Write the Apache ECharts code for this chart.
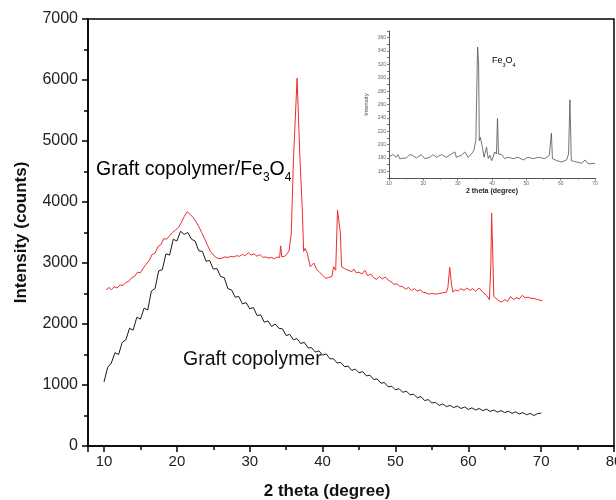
<!DOCTYPE html>
<html>
<head>
<meta charset="utf-8">
<script src="https://cdn.jsdelivr.net/npm/echarts@6/dist/echarts.min.js"></script>
<style>
  html, body { margin: 0; padding: 0; background: #fff; }
  #xrd { width: 616px; height: 500px; }
</style>
</head>
<body>
<div id="xrd"></div>
<script>
// Graft copolymer (black trace)
var graftTheta = [10,10.5,11,11.5,12,12.5,13,13.5,14,14.5,15,15.5,16,16.5,17,17.5,18,18.5,19,19.5,
  20,20.5,21,21.5,22,22.5,23,23.5,24,24.5,25,25.5,26,26.5,27,27.5,28,28.5,29,29.5,
  30,30.5,31,31.5,32,32.5,33,33.5,34,34.5,35,35.5,36,36.5,37,37.5,38,38.5,39,39.5,
  40,40.5,41,41.5,42,42.5,43,43.5,44,44.5,45,45.5,46,46.5,47,47.5,48,48.5,49,49.5,
  50,50.5,51,51.5,52,52.5,53,53.5,54,54.5,55,55.5,56,56.5,57,57.5,58,58.5,59,59.5,
  60,60.5,61,61.5,62,62.5,63,63.5,64,64.5,65,65.5,66,66.5,67,67.5,68,68.5,69,69.5,70];
var graftCounts = [1050,1290,1360,1530,1500,1700,1740,1930,1900,2110,2080,2260,2230,2540,2580,2870,2890,3150,3130,3390,
  3360,3520,3470,3500,3390,3360,3200,3190,3030,3040,2900,2910,2780,2760,2580,2560,2440,2450,2330,2350,
  2250,2270,2140,2150,2030,2050,1960,2000,1930,1920,1810,1830,1740,1760,1680,1700,1610,1610,1540,1560,
  1490,1510,1430,1430,1360,1370,1300,1310,1240,1260,1200,1220,1150,1160,1090,1100,1030,1040,970,980,
  920,940,880,900,840,850,790,810,745,760,705,715,665,690,645,665,630,655,615,640,
  600,625,590,615,580,605,565,590,555,580,548,570,535,560,525,548,512,535,500,530,540];

// Graft copolymer/Fe3O4 (red trace)
var compTheta = [10.3,10.7,11,11.4,11.8,12.2,12.6,13,13.4,13.8,14.2,14.6,15,15.4,15.8,16.2,16.6,17,17.4,17.8,
  18.2,18.6,19,19.4,19.8,20.2,20.6,21,21.4,21.8,22.2,22.6,23,23.4,23.8,24.2,24.6,25,25.4,25.8,
  26.2,26.6,27,27.4,27.8,28.2,28.6,29,29.4,29.8,30.2,30.6,31,31.4,31.8,32.2,32.6,33,33.4,33.8,
  34.1,34.25,34.4,34.8,35.1,35.4,35.7,36,36.5,36.9,37.2,37.4,37.6,37.9,38.3,38.8,39.2,39.5,40,40.4,
  40.8,41.3,41.5,41.8,42.05,42.2,42.45,42.6,43,43.5,44,44.3,44.6,45,45.4,45.8,46.2,46.6,47,47.4,
  47.8,48.2,48.6,49,49.4,49.8,50.2,50.6,51,51.4,51.8,52.2,52.6,53,53.4,53.8,54.2,54.6,55,55.5,
  56,56.5,57,57.2,57.45,57.7,57.9,58.2,58.6,59,59.4,59.8,60.2,60.6,61,61.5,62,62.5,62.9,63.1,
  63.2,63.35,63.5,63.8,64.2,64.6,65,65.4,65.8,66.2,66.6,67,67.4,67.8,68.2,68.6,69,69.5,70.2];
var compCounts = [2560,2600,2560,2610,2590,2640,2630,2680,2700,2760,2780,2850,2840,2920,2980,3040,3140,3160,3270,3300,
  3400,3390,3450,3500,3540,3580,3660,3760,3840,3800,3750,3680,3600,3500,3400,3290,3190,3130,3090,3070,
  3080,3100,3090,3110,3100,3120,3110,3140,3120,3170,3130,3150,3110,3140,3090,3100,3080,3090,3070,3100,
  3090,3280,3100,3110,3150,3200,3480,4690,6030,4690,3920,3190,3240,3160,2940,3000,2890,2860,2800,2750,
  2760,2780,2940,2880,3870,3890,3480,2940,2910,2880,2860,2900,2840,2850,2820,2880,2790,2820,2760,2730,
  2780,2740,2770,2720,2690,2650,2660,2620,2610,2570,2600,2550,2580,2540,2560,2520,2510,2490,2500,2490,
  2500,2510,2520,2600,2930,2650,2520,2560,2540,2580,2550,2590,2550,2580,2540,2590,2520,2470,2400,3000,
  3820,3200,2450,2420,2380,2360,2400,2370,2450,2400,2430,2410,2470,2430,2440,2420,2420,2400,2380];

// Fe3O4 (inset)
var feTheta = [10,11.2,12.1,12.6,13.1,15.1,16,16.8,18,19.4,20.4,21.9,22.8,23.8,25.3,26.7,28.2,29.2,29.6,31.1,
  32.1,33,34,34.7,35.3,35.8,36.1,36.3,36.6,37.2,37.7,38.4,38.9,39.4,39.9,40.3,40.8,41.3,41.6,41.9,
  42.8,43.7,44.7,46.2,47.6,49.1,50.5,52,53.5,55.4,56.7,57.3,57.6,58.8,60.3,61.7,62.3,62.7,63.1,64.6,
  66.1,67.1,68.1,70];
var feCounts = [182,185,181,185,179,180,185,184,180,185,179,181,185,181,185,181,186,189,181,184,
  189,181,186,191,207,346,321,206,211,196,181,196,179,184,176,181,189,186,239,186,
  185,179,181,179,181,177,181,179,181,179,184,217,179,176,174,177,186,267,176,174,
  172,177,171,172];

var mainTicks = [0, 1000, 2000, 3000, 4000, 5000, 6000, 7000];

function pairs(xs, ys) {
  var out = [];
  for (var i = 0; i < xs.length; i++) out.push([xs[i], ys[i]]);
  return out;
}

var chart = echarts.init(document.getElementById('xrd'));
var font = 'Liberation Sans, Arial, Helvetica, sans-serif';

var option = {
  animation: false,
  backgroundColor: '#fff',
  grid: [
    { left: 88, right: 2, top: 19, bottom: 54, show: true, borderColor: '#000', borderWidth: 1.5, outerBoundsMode: 'none' },
    { left: 389, right: 21, top: 31, bottom: 322, outerBoundsMode: 'none' }
  ],
  xAxis: [
    {
      type: 'value', gridIndex: 0, min: 7.8, max: 80,
      name: '2 theta (degree)', nameLocation: 'middle', nameGap: 37,
      nameTextStyle: { fontFamily: font, fontSize: 17, fontWeight: 'bold', color: '#111', padding: [0, 48, 0, 0] },
      axisLine: { lineStyle: { color: '#000', width: 1.5 } },
      axisTick: { length: 6, lineStyle: { color: '#000', width: 1.5 } },
      minorTick: { show: true, splitNumber: 2, length: 4, lineStyle: { color: '#000', width: 1.5 } },
      splitLine: { show: false },
      axisLabel: { showMinLabel: false, fontFamily: font, fontSize: 15, color: '#222', margin: 8 }
    },
    {
      type: 'value', gridIndex: 1, min: 10, max: 70, interval: 10,
      name: '2 theta (degree)', nameLocation: 'middle', nameGap: 10,
      nameTextStyle: { fontFamily: font, fontSize: 7, fontWeight: 'bold', color: '#222' },
      axisLine: { lineStyle: { color: '#555', width: 1 } },
      axisTick: { length: 2.5, lineStyle: { color: '#555', width: 0.8 } },
      minorTick: { show: true, splitNumber: 2, length: 1.5, lineStyle: { color: '#555', width: 0.8 } },
      splitLine: { show: false },
      axisLabel: { fontFamily: font, fontSize: 5, color: '#666', margin: 3 }
    }
  ],
  yAxis: [
    {
      type: 'value', gridIndex: 0, min: mainTicks[0], max: mainTicks[mainTicks.length - 1], interval: 1000,
      name: 'Intensity (counts)', nameLocation: 'middle', nameGap: 58,
      nameTextStyle: { fontFamily: font, fontSize: 17, fontWeight: 'bold', color: '#111' },
      axisLine: { show: true, lineStyle: { color: '#000', width: 1.5 } },
      axisTick: { show: true, length: 6, lineStyle: { color: '#000', width: 1.5 } },
      minorTick: { show: true, splitNumber: 2, length: 4, lineStyle: { color: '#000', width: 1.5 } },
      splitLine: { show: false },
      axisLabel: {
        fontFamily: font, fontSize: 16, color: '#222', margin: 10,
        formatter: function (v) { return String(v); }
      }
    },
    {
      type: 'value', gridIndex: 1, min: 150, max: 370, interval: 10,
      name: 'Intensity', nameLocation: 'middle', nameGap: 20,
      nameTextStyle: { fontFamily: font, fontSize: 6, color: '#444' },
      axisLine: { show: true, lineStyle: { color: '#555', width: 1 } },
      axisTick: { show: true, length: 2, lineStyle: { color: '#555', width: 0.8 } },
      splitLine: { show: false },
      axisLabel: {
        fontFamily: font, fontSize: 5, color: '#666', margin: 3,
        formatter: function (v) { return v % 20 === 0 ? String(v) : ''; }
      }
    }
  ],
  series: [
    {
      name: 'Graft copolymer', type: 'line', xAxisIndex: 0, yAxisIndex: 0,
      data: pairs(graftTheta, graftCounts), showSymbol: false,
      lineStyle: { color: '#1a1a1a', width: 1 }
    },
    {
      name: 'Graft copolymer/Fe3O4', type: 'line', xAxisIndex: 0, yAxisIndex: 0,
      data: pairs(compTheta, compCounts), showSymbol: false,
      lineStyle: { color: '#ee2c2c', width: 1 }
    },
    {
      name: 'Fe3O4', type: 'line', xAxisIndex: 1, yAxisIndex: 1,
      data: pairs(feTheta, feCounts), showSymbol: false,
      lineStyle: { color: '#505050', width: 0.8 }
    }
  ],
  graphic: [
    {
      type: 'text', left: 96, top: 160,
      style: {
        text: '{a|Graft copolymer/Fe}{s|3}{a|O}{s|4}',
        rich: {
          a: { fontFamily: font, fontSize: 19.5, color: '#111', verticalAlign: 'top', lineHeight: 24 },
          s: { fontFamily: font, fontSize: 12, color: '#111', verticalAlign: 'bottom', lineHeight: 24 }
        }
      }
    },
    {
      type: 'text', left: 183, top: 350,
      style: { text: 'Graft copolymer', fontFamily: font, fontSize: 19.5, fill: '#111' }
    },
    {
      type: 'text', left: 492, top: 56,
      style: {
        text: '{a|Fe}{s|3}{a|O}{s|4}',
        rich: {
          a: { fontFamily: font, fontSize: 9, color: '#222', verticalAlign: 'top', lineHeight: 12 },
          s: { fontFamily: font, fontSize: 5.5, color: '#222', verticalAlign: 'bottom', lineHeight: 12 }
        }
      }
    }
  ]
};

chart.setOption(option);
</script>
</body>
</html>
